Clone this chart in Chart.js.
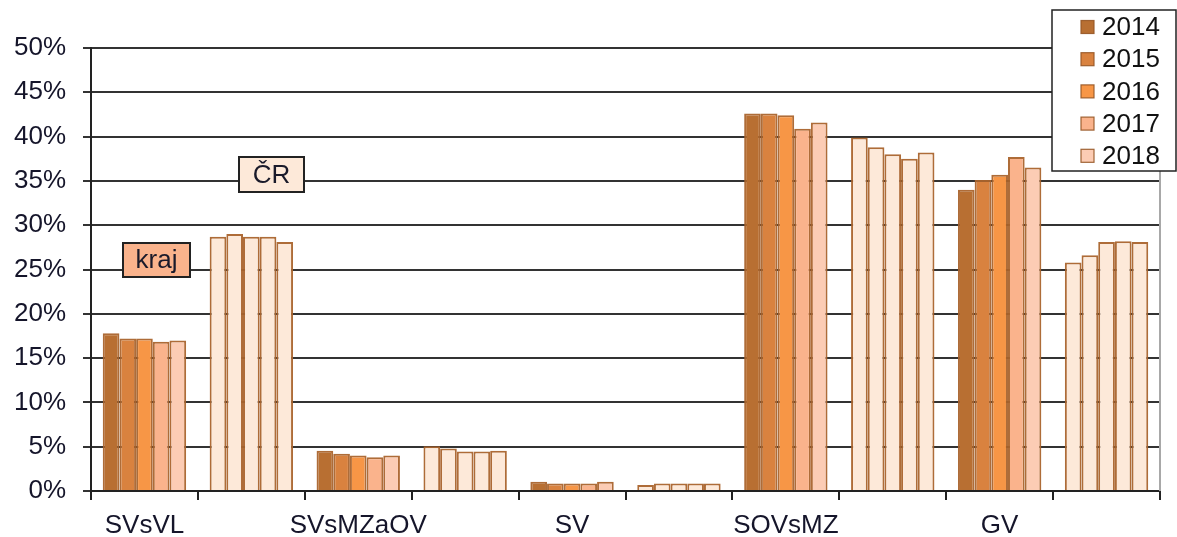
<!DOCTYPE html>
<html>
<head>
<meta charset="utf-8">
<script src="https://cdn.jsdelivr.net/npm/chart.js@4.4.0/dist/chart.umd.min.js"></script>
<style>
html,body{margin:0;padding:0;background:#fff;}
#wrap{width:1177px;height:537px;}
</style>
</head>
<body>
<div id="wrap"><canvas id="c" width="1177" height="537"></canvas></div>
<script>
// categories: kraj / ČR pairs
const categories = ['SVsVL','','SVsMZaOV','','SV','','SOVsMZ','','GV',''];
const years = ['2014','2015','2016','2017','2018'];
// values per year, in category order (kraj, ČR, kraj, ČR, ...)
const v2014 = [17.8, 28.7, 4.55, 5.05, 1.05, 0.68, 42.6, 39.9, 34.0, 25.8];
const v2015 = [17.2, 29.0, 4.2, 4.8, 0.86, 0.86, 42.6, 38.8, 35.1, 26.6];
const v2016 = [17.2, 28.7, 4.0, 4.45, 0.86, 0.86, 42.4, 38.0, 35.7, 28.1];
const v2017 = [16.85, 28.7, 3.8, 4.45, 0.86, 0.86, 40.9, 37.5, 37.7, 28.2];
const v2018 = [17.0, 28.1, 4.0, 4.55, 1.05, 0.86, 41.6, 38.2, 36.5, 28.1];
const yTicks = [0,5,10,15,20,25,30,35,40,45,50];

const yearColors = ['#B86F32','#D9823F','#F79646','#FAB38C','#FCCCB4'];
const crColor = '#FDE9D9';
const FONT = 'Liberation Sans, Arial, sans-serif';

const series = [v2014, v2015, v2016, v2017, v2018];
const datasets = series.map((vals, i) => ({
  label: years[i],
  data: vals,
  backgroundColor: vals.map((v, j) => j % 2 === 0 ? yearColors[i] : crColor),
  borderColor: 'rgba(170,100,45,0.95)',
  borderWidth: 2,
  borderSkipped: 'bottom',
  categoryPercentage: 0.78,
  barPercentage: 1.0
}));

const overlay = {
  id: 'overlay',
  afterDraw(chart) {
    const ctx = chart.ctx;
    const ca = chart.chartArea;
    ctx.save();
    // right border
    ctx.strokeStyle = '#A8A8A8';
    ctx.lineWidth = 2;
    ctx.beginPath();
    ctx.moveTo(ca.right, ca.top);
    ctx.lineTo(ca.right, ca.bottom);
    ctx.stroke();

    // annotation boxes
    function box(x1, y1, x2, y2, fill, text) {
      ctx.fillStyle = fill;
      ctx.fillRect(x1, y1, x2 - x1, y2 - y1);
      ctx.strokeStyle = '#222';
      ctx.lineWidth = 2;
      ctx.strokeRect(x1, y1, x2 - x1, y2 - y1);
      ctx.fillStyle = '#1a1a2a';
      ctx.font = '26px ' + FONT;
      ctx.textAlign = 'center';
      ctx.textBaseline = 'middle';
      ctx.fillText(text, (x1 + x2) / 2, (y1 + y2) / 2 + 1);
    }
    box(123, 243, 190, 277, '#FAB38C', 'kraj');
    box(239, 157, 304, 192, crColor, 'ČR');

    // legend
    const lx = 1052, ly = 10, lw = 124, lh = 161;
    ctx.fillStyle = '#fff';
    ctx.fillRect(lx, ly, lw, lh);
    ctx.strokeStyle = '#222';
    ctx.lineWidth = 1.5;
    ctx.strokeRect(lx, ly, lw, lh);
    chart.data.datasets.forEach((ds, i) => {
      const cy = 27 + i * 32.2;
      ctx.fillStyle = yearColors[i];
      ctx.fillRect(1081, cy - 6.5, 13, 13);
      ctx.strokeStyle = 'rgba(150,85,35,0.9)';
      ctx.lineWidth = 1.2;
      ctx.strokeRect(1081, cy - 6.5, 13, 13);
      ctx.fillStyle = '#111';
      ctx.font = '26px ' + FONT;
      ctx.textAlign = 'left';
      ctx.textBaseline = 'middle';
      ctx.fillText(ds.label, 1102, cy + 1);
    });
    ctx.restore();
  }
};

new Chart(document.getElementById('c'), {
  type: 'bar',
  data: { labels: categories, datasets },
  options: {
    responsive: false,
    animation: false,
    layout: { padding: { left: 0, right: 17, top: 48, bottom: 0 } },
    plugins: { legend: { display: false }, tooltip: { enabled: false } },
    scales: {
      x: {
        offset: true,
        grid: { display: true, drawOnChartArea: false, drawTicks: true, tickLength: 9, color: '#222', lineWidth: 2, offset: true },
        border: { display: true, color: '#222', width: 2 },
        ticks: { color: '#15152a', font: { family: FONT, size: 26 }, padding: 10, maxRotation: 0, autoSkip: false },
        afterFit(s) { s.height = 46; }
      },
      y: {
        min: 0, max: 50,
        afterBuildTicks(s) { s.ticks = yTicks.map(v => ({ value: v })); },
        grid: { color: '#333', lineWidth: 2, drawTicks: true, tickLength: 8 },
        border: { display: true, color: '#222', width: 2 },
        ticks: { color: '#15152a', font: { family: FONT, size: 26 }, padding: 17, callback: v => v + '%' },
        afterFit(s) { s.width = 91; }
      }
    }
  },
  plugins: [overlay]
});
</script>
</body>
</html>
